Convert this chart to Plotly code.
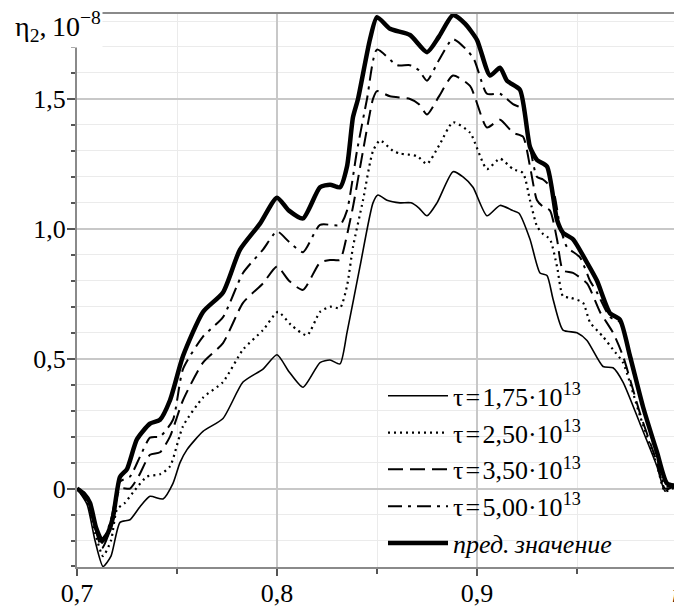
import plotly.graph_objects as go

# --- data ---
x_t175 = [0.700, 0.705, 0.709, 0.713, 0.717, 0.7215, 0.7265, 0.7315, 0.7365, 0.743, 0.748, 0.7515, 0.755,
          0.763, 0.773, 0.783, 0.793, 0.800, 0.806, 0.813, 0.8215, 0.8265, 0.8315, 0.835, 0.8415, 0.848,
          0.8505, 0.855, 0.8615, 0.867, 0.871, 0.875, 0.880, 0.888, 0.893, 0.898, 0.905, 0.9115, 0.918,
          0.921, 0.9265, 0.9315, 0.935, 0.938, 0.943, 0.950, 0.955, 0.963, 0.968, 0.973, 0.9815, 0.990,
          0.994, 0.997, 1.000]
y_t175 = [0.00, -0.06, -0.20, -0.30, -0.26, -0.13, -0.12, -0.07, -0.03, -0.04, 0.02, 0.10, 0.15,
          0.22, 0.27, 0.41, 0.46, 0.515, 0.45, 0.39, 0.485, 0.495, 0.48, 0.60, 0.855, 1.10,
          1.13, 1.11, 1.10, 1.10, 1.08, 1.05, 1.10, 1.22, 1.20, 1.16, 1.05, 1.09, 1.07,
          1.06, 0.96, 0.83, 0.82, 0.73, 0.61, 0.60, 0.57, 0.47, 0.465, 0.41, 0.25, 0.085,
          -0.01, 0.005, 0.01]

x_t250 = [0.700, 0.705, 0.709, 0.713, 0.717, 0.720, 0.724, 0.728, 0.735, 0.7415, 0.7465, 0.753, 0.763,
          0.773, 0.783, 0.793, 0.8005, 0.807, 0.815, 0.8215, 0.8265, 0.8315, 0.835, 0.838, 0.843, 0.848,
          0.8515, 0.858, 0.8615, 0.870, 0.875, 0.881, 0.888, 0.8965, 0.905, 0.9115, 0.918, 0.923,
          0.9265, 0.930, 0.933, 0.9365, 0.940, 0.943, 0.9465, 0.953, 0.9565, 0.963, 0.968, 0.973,
          0.9815, 0.990, 0.994, 1.000]
y_t250 = [0.00, -0.05, -0.17, -0.26, -0.20, -0.08, -0.055, -0.015, 0.046, 0.055, 0.085, 0.24, 0.35,
          0.41, 0.535, 0.61, 0.68, 0.63, 0.59, 0.68, 0.70, 0.695, 0.78, 0.93, 1.11, 1.30,
          1.34, 1.30, 1.29, 1.28, 1.25, 1.32, 1.41, 1.37, 1.23, 1.27, 1.23, 1.215,
          1.11, 1.01, 0.98, 0.96, 0.855, 0.74, 0.735, 0.715, 0.64, 0.585, 0.535, 0.485,
          0.28, 0.09, -0.01, 0.01]

x_t350 = [0.700, 0.705, 0.709, 0.7125, 0.717, 0.7215, 0.7265, 0.731, 0.7365, 0.7415, 0.7465, 0.753,
          0.763, 0.773, 0.783, 0.793, 0.800, 0.806, 0.813, 0.8215, 0.8265, 0.8315, 0.833, 0.838, 0.843,
          0.848, 0.850, 0.8565, 0.8665, 0.871, 0.875, 0.881, 0.888, 0.8965, 0.905, 0.9115, 0.918,
          0.923, 0.9265, 0.930, 0.933, 0.9365, 0.940, 0.943, 0.948, 0.955, 0.9615, 0.968, 0.973,
          0.9815, 0.990, 0.994, 1.000]
y_t350 = [0.00, -0.05, -0.15, -0.23, -0.15, 0.00, 0.00, 0.05, 0.13, 0.14, 0.20, 0.34,
          0.485, 0.56, 0.715, 0.79, 0.855, 0.80, 0.765, 0.87, 0.88, 0.88, 0.91, 1.085, 1.30,
          1.50, 1.53, 1.51, 1.50, 1.48, 1.44, 1.51, 1.59, 1.55, 1.39, 1.42, 1.37,
          1.355, 1.24, 1.11, 1.085, 1.07, 0.96, 0.84, 0.83, 0.79, 0.68, 0.60, 0.51,
          0.29, 0.10, 0.00, 0.01]

x_t500 = [0.700, 0.705, 0.709, 0.7125, 0.717, 0.7215, 0.7265, 0.7315, 0.7365, 0.7415, 0.748, 0.753,
          0.763, 0.773, 0.783, 0.793, 0.800, 0.806, 0.813, 0.8215, 0.8315, 0.835, 0.840, 0.845, 0.850,
          0.860, 0.8665, 0.871, 0.875, 0.881, 0.888, 0.898, 0.905, 0.9115, 0.918, 0.923, 0.9265,
          0.930, 0.933, 0.938, 0.9415, 0.945, 0.9515, 0.9565, 0.960, 0.9665, 0.9715, 0.9765, 0.983,
          0.990, 0.994, 1.000]
y_t500 = [0.00, -0.04, -0.14, -0.21, -0.12, 0.027, 0.046, 0.123, 0.196, 0.20, 0.265, 0.46,
          0.585, 0.66, 0.83, 0.92, 0.99, 0.95, 0.91, 1.015, 1.015, 1.07, 1.30, 1.50, 1.69,
          1.63, 1.63, 1.61, 1.57, 1.65, 1.73, 1.66, 1.52, 1.52, 1.48, 1.46, 1.315,
          1.20, 1.19, 1.15, 1.01, 0.93, 0.89, 0.80, 0.755, 0.66, 0.64, 0.52, 0.32,
          0.12, 0.01, 0.01]

x_lim = [0.700, 0.7035, 0.7065, 0.7095, 0.7125, 0.7155, 0.718, 0.7215, 0.725, 0.730, 0.7365, 0.7415,
         0.7465, 0.753, 0.763, 0.773, 0.7815, 0.7915, 0.800, 0.806, 0.813, 0.8215, 0.8265, 0.8315,
         0.835, 0.838, 0.8405, 0.8465, 0.850, 0.8565, 0.8665, 0.875, 0.881, 0.888, 0.894, 0.900,
         0.9065, 0.9115, 0.915, 0.9215, 0.9265, 0.930, 0.935, 0.940, 0.943, 0.948, 0.955, 0.960,
         0.9665, 0.9715, 0.9765, 0.983, 0.990, 0.995, 1.000]
y_lim = [0.00, -0.02, -0.055, -0.15, -0.20, -0.17, -0.11, 0.045, 0.075, 0.19, 0.25, 0.265,
         0.34, 0.51, 0.68, 0.755, 0.92, 1.02, 1.12, 1.07, 1.04, 1.16, 1.17, 1.16,
         1.24, 1.43, 1.50, 1.73, 1.815, 1.77, 1.746, 1.68, 1.74, 1.823, 1.79, 1.727,
         1.59, 1.62, 1.57, 1.535, 1.315, 1.265, 1.24, 1.035, 0.985, 0.96, 0.87, 0.80,
         0.675, 0.65, 0.51, 0.315, 0.14, 0.02, 0.01]

names = ["τ\u200a=\u200a1,75·10<sup>13</sup>", "τ\u200a=\u200a2,50·10<sup>13</sup>",
         "τ\u200a=\u200a3,50·10<sup>13</sup>", "τ\u200a=\u200a5,00·10<sup>13</sup>",
         "<i>пред.\u2009значение</i>"]

x_ticks = [0.7, 0.8, 0.9, 1.0]
x_ticktext = ["0,7", "0,8", "0,9", "<i>r</i>"]
y_ticks = [0, 0.5, 1.0, 1.5]
y_ticktext = ["0", "0,5", "1,0", "1,5"]

FONT = "Liberation Serif"

series = [
    (x_t175, y_t175, dict(width=1.6, dash="solid")),
    (x_t250, y_t250, dict(width=2.2, dash="2px,4px")),
    (x_t350, y_t350, dict(width=2.0, dash="15px,7px")),
    (x_t500, y_t500, dict(width=2.0, dash="14px,6px,3px,6px")),
    (x_lim, y_lim, dict(width=4.5, dash="solid")),
]

fig = go.Figure()
for i, ((xs, ys, ln), nm) in enumerate(zip(series, names)):
    fig.add_trace(go.Scatter(
        x=xs, y=ys, mode="lines", name=nm, legendgroup=f"g{i}",
        line=dict(color="black", shape="spline", smoothing=0.6, **ln),
    ))

grid_major = "#c8c8c8"
grid_minor = "#ebebeb"

# page has an 8px body margin, so the figure is sized/placed to compensate
def px_x(p):
    return (p - 77) / 600.0

def px_y(p):
    return (567 - p) / 553.0

fig.update_layout(
    width=674, height=606,
    margin=dict(l=69, r=5, t=6, b=47),
    paper_bgcolor="white", plot_bgcolor="white",
    font=dict(family=FONT, size=26, color="black"),
    showlegend=True,
    legend=dict(
        x=0.51, y=0.352, xanchor="left", yanchor="top",
        bgcolor="rgba(0,0,0,0)", borderwidth=0,
        font=dict(family=FONT, size=26, color="black"),
        traceorder="grouped", tracegroupgap=0, itemwidth=60,
    ),
    xaxis=dict(
        range=[0.7, 1.0], tickmode="array", tickvals=x_ticks, ticktext=x_ticktext,
        showline=True, linecolor="#8a8a8a", linewidth=2, mirror=True,
        ticks="outside", ticklen=7, tickwidth=1.5, tickcolor="#555555",
        showgrid=True, gridcolor=grid_major, gridwidth=1.5,
        zeroline=False, ticklabelstandoff=-5, automargin=False,
        ticklabeloverflow="allow",
        minor=dict(tick0=0.7, dtick=0.05, ticks="outside", ticklen=5, tickcolor="#555555",
                   showgrid=True, gridcolor=grid_minor, gridwidth=1),
    ),
    yaxis=dict(
        range=[-0.302, 1.827], tickmode="array", tickvals=y_ticks, ticktext=y_ticktext,
        showline=True, linecolor="#8a8a8a", linewidth=2, mirror=True,
        ticks="outside", ticklen=8, tickwidth=1.5, tickcolor="#555555",
        showgrid=True, gridcolor=grid_major, gridwidth=1.5,
        zeroline=False, ticklabelstandoff=-4, automargin=False,
        minor=dict(tick0=0, dtick=0.1, ticks="outside", ticklen=4, tickcolor="#555555",
                   showgrid=True, gridcolor=grid_minor, gridwidth=1),
    ),
    shapes=[
        dict(type="rect", xref="paper", yref="paper", layer="between",
             x0=px_x(448), x1=px_x(598), y0=px_y(522), y1=px_y(380),
             fillcolor="white", line=dict(width=0)),
        dict(type="rect", xref="paper", yref="paper", layer="between",
             x0=px_x(448), x1=px_x(630), y0=px_y(560), y1=px_y(522),
             fillcolor="white", line=dict(width=0)),
    ],
    annotations=[dict(
        text="η<sub>2</sub>,\u200910<sup>−8</sup>", xref="paper", yref="paper",
        x=px_x(13), y=px_y(27), xanchor="left", yanchor="middle", showarrow=False,
        bgcolor="white", font=dict(family=FONT, size=28, color="black"),
    )],
)

fig.write_html("out.html")
